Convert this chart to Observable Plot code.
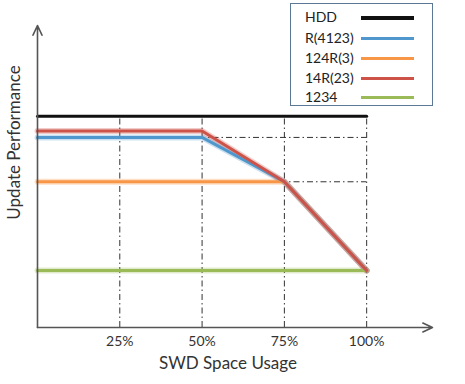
<!DOCTYPE html>
<html>
<head>
<meta charset="utf-8">
<script src="https://cdn.jsdelivr.net/npm/d3@7"></script>
<script src="https://cdn.jsdelivr.net/npm/@observablehq/plot@0.6"></script>
<style>
  body { margin: 0; background: #fff; font-family: Lato, "Open Sans", sans-serif; }
  #wrap { position: relative; width: 465px; height: 384px; }
  #legend { position: absolute; left: 290px; top: 3px; width: 141px; height: 101px;
            border: 1.5px solid #5b7896; background: #fff; }
  #legend .row { position: absolute; left: 14px; font-size: 14px; color: #222; line-height: 16px; }
  #legend .sw { position: absolute; left: 70px; width: 53px; height: 3px; }
</style>
</head>
<body>
<div id="wrap"></div>
<script>
const seriesNames = ["HDD", "R(4123)", "124R(3)", "14R(23)", "1234"];
const seriesColors = ["#111111", "#4f97cc", "#f79646", "#cd5349", "#9bbb59"];
const xTicks = [25, 50, 75, 100];
const usage = [0, 50, 75, 100];
const hdd = [100, 100, 100, 100];
const r4123 = [90, 90, 69, 27];
const r124_3 = [69, 69, 69, 27];
const r14_23 = [93, 93, 69, 27];
const r1234 = [27, 27, 27, 27];
const guideLevels = [90, 69];

const valuesBySeries = [hdd, r4123, r124_3, r14_23, r1234];
const rows = seriesNames.flatMap((name, i) =>
  usage.map((u, j) => ({ series: name, usage: u, perf: valuesBySeries[i][j] })));
const bySeries = name => rows.filter(d => d.series === name);
const color = name => seriesColors[seriesNames.indexOf(name)];

const dashDot = "6,3,1.5,3";
const drawOrder = ["1234", "124R(3)", "R(4123)", "14R(23)"];

const chart = Plot.plot({
  width: 465,
  height: 384,
  marginLeft: 37,
  marginRight: 33,
  marginTop: 25,
  marginBottom: 57,
  x: { domain: [0, 120] },
  y: { domain: [0, 143], axis: null },
  style: { fontFamily: "Lato, 'Open Sans', sans-serif", background: "#fff" },
  marks: [
    Plot.ruleX(xTicks, { y1: 0, y2: 100, stroke: "#333", strokeWidth: 1, strokeDasharray: dashDot }),
    Plot.ruleY(guideLevels, { x1: 0, x2: 100, stroke: "#333", strokeWidth: 1, strokeDasharray: dashDot }),
    ...drawOrder.map(name => Plot.line(bySeries(name), {
      x: "usage", y: "perf", stroke: color(name), strokeWidth: 6, strokeOpacity: 0.3
    })),
    ...drawOrder.map(name => Plot.line(bySeries(name), {
      x: "usage", y: "perf", stroke: color(name), strokeWidth: 3
    })),
    Plot.line(bySeries("HDD"), { x: "usage", y: "perf", stroke: color("HDD"), strokeWidth: 3 }),
    Plot.arrow([0], { x1: 0, y1: 0, x2: 120, y2: 0, stroke: "#555", strokeWidth: 1.6, headLength: 10, headAngle: 50 }),
    Plot.arrow([0], { x1: 0, y1: 0, x2: 0, y2: 143, stroke: "#555", strokeWidth: 1.6, headLength: 10, headAngle: 50 }),
    Plot.axisX(xTicks, { tickSize: 0, tickPadding: 9, tickFormat: d => d + "%", fontSize: 14, fill: "#333", label: null }),
    Plot.text(["SWD Space Usage"], { frameAnchor: "bottom", lineAnchor: "middle", dy: 36, dx: -7, fontSize: 17, fill: "#333" }),
    Plot.text(["Update Performance"], { frameAnchor: "left", textAnchor: "middle", lineAnchor: "middle", dx: -23, dy: -34, rotate: -90, fontSize: 17, fill: "#333" })
  ]
});

const wrap = document.getElementById("wrap");
wrap.appendChild(chart);

const legend = document.createElement("div");
legend.id = "legend";
const rowTops = [5, 25.5, 46, 65.5, 85];
seriesNames.forEach((name, i) => {
  const t = document.createElement("div");
  t.className = "row";
  t.style.top = rowTops[i] + "px";
  t.textContent = name;
  legend.appendChild(t);
  const s = document.createElement("div");
  s.className = "sw";
  s.style.top = (rowTops[i] + 7) + "px";
  s.style.background = seriesColors[i];
  if (i === 0) s.style.height = "3.5px";
  legend.appendChild(s);
});
wrap.appendChild(legend);
</script>
</body>
</html>
